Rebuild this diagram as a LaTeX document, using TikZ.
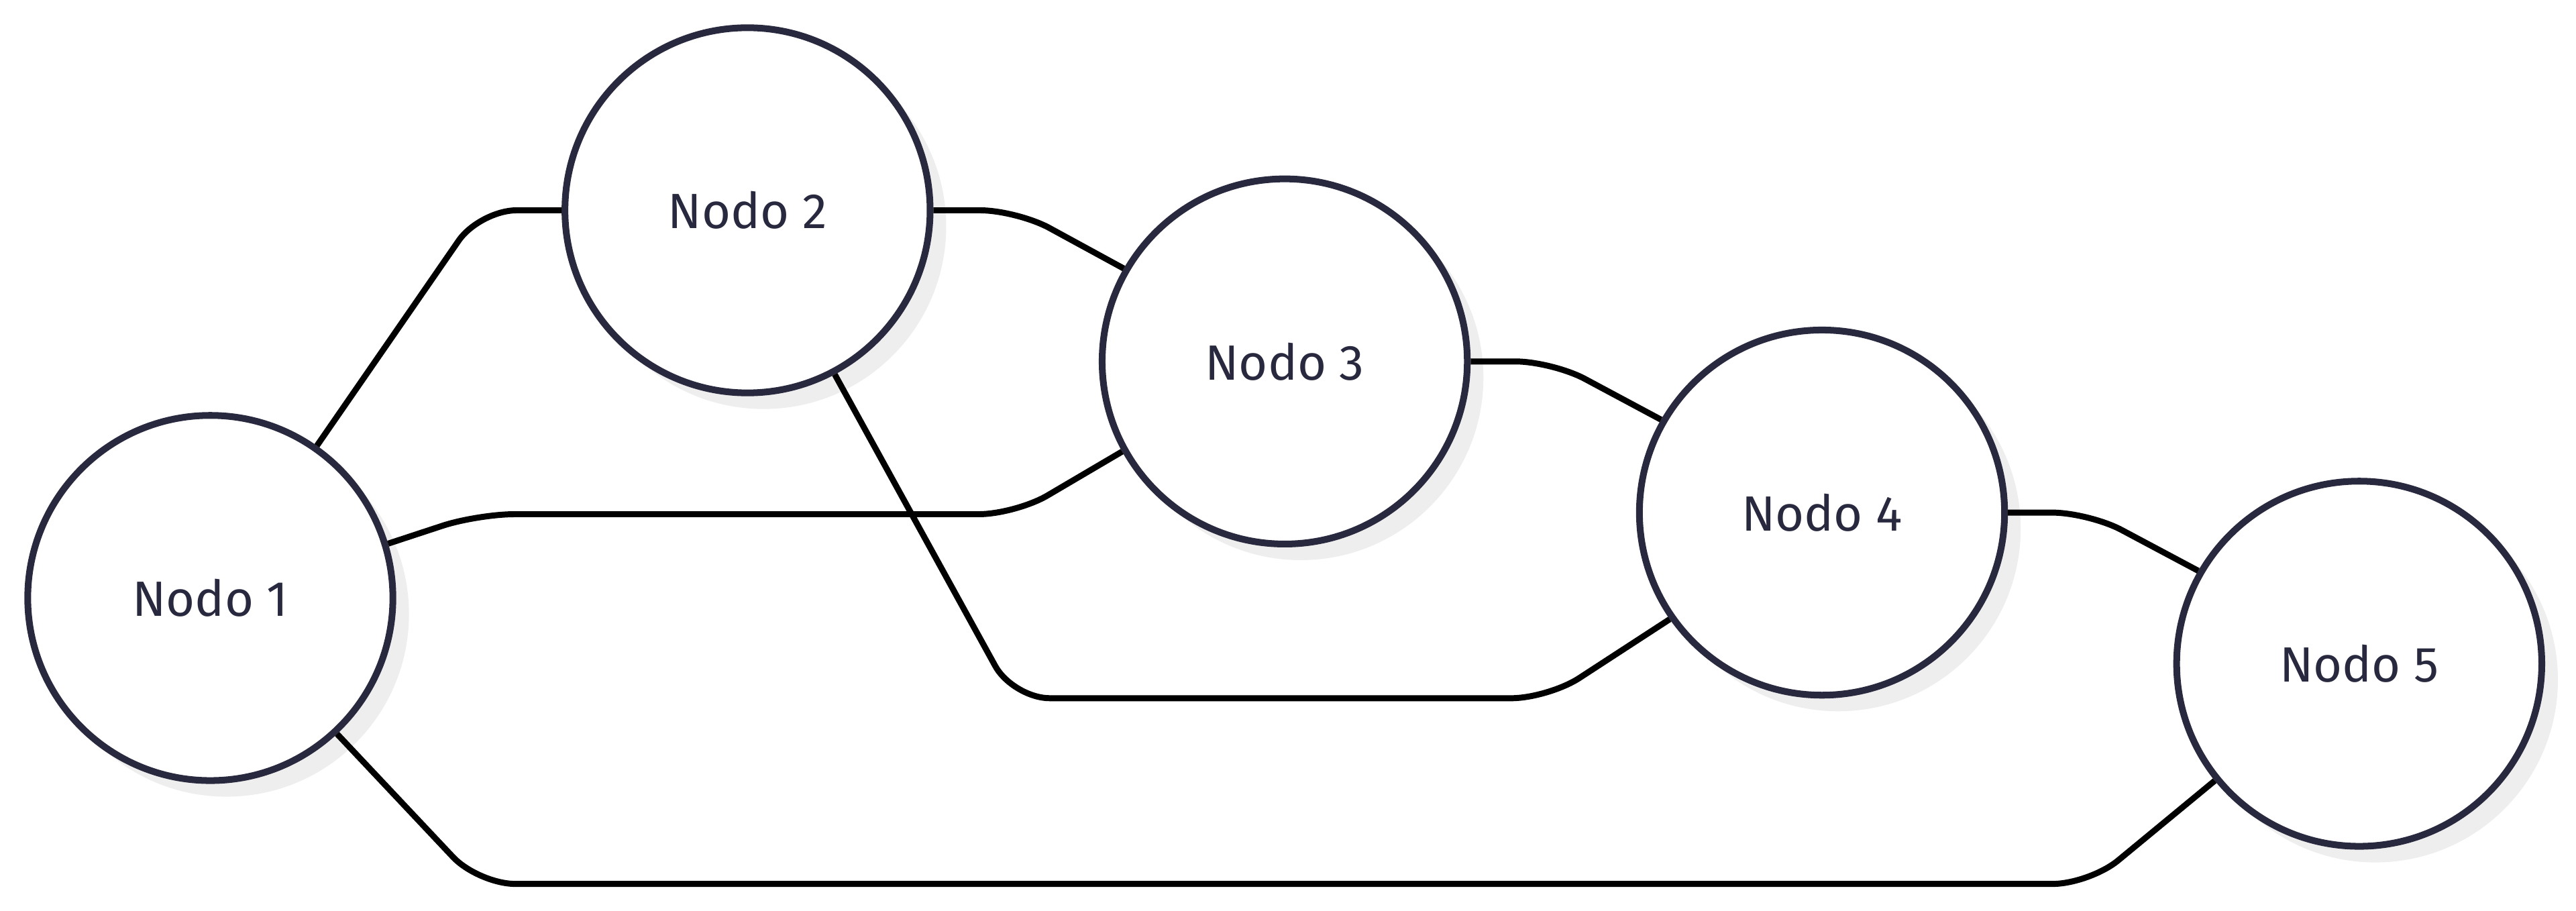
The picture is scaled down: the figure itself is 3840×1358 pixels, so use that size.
\documentclass[tikz,border=0pt]{standalone}
\usepackage{fontspec}
\setmainfont{Fira Sans}
\usetikzlibrary{shadows}
\definecolor{ink}{HTML}{28283E}
\definecolor{shadowc}{HTML}{EEEEEE}
\begin{document}
\begin{tikzpicture}[x=0.01cm, y=-0.01cm,
  circ/.style={circle, draw=ink, fill=white, line width=2.85pt, minimum size=5.44cm, inner sep=0pt,
    text=ink, font=\fontsize{21}{25}\selectfont,
    drop shadow={shadow xshift=0.24cm, shadow yshift=-0.24cm, fill=shadowc, draw=none, opacity=1}},
  link/.style={draw=black, line width=2.55pt, rounded corners=0.55cm}]
\useasboundingbox (0,0) rectangle (3840,1358);
\node[circ] (n1) at (313.5,891.4) {Nodo 1};
\node[circ] (n2) at (1114.3,313.5) {Nodo 2};
\node[circ] (n3) at (1915.1,538.8) {Nodo 3};
\node[circ] (n4) at (2716,764.1) {Nodo 4};
\node[circ] (n5) at (3516.8,989.4) {Nodo 5};
\draw[link] (n1.55) -- (715,313.5) -- (n2.west);
\draw[link] (n1.17) -- (712,766.5) -- (1514,766.5) -- (n3.209.5);
\draw[link] (n2.east) -- (1516,313.5) -- (n3.150.5);
\draw[link] (n2.298.8) -- (1510,1040.8) -- (2308,1040.8) -- (n4.215);
\draw[link] (n3.east) -- (2314,538.8) -- (n4.150.5);
\draw[link] (n4.east) -- (3114,764.1) -- (n5.150.5);
\draw[link] (n1.313.2) -- (713,1317.6) -- (3115,1317.6) -- (n5.219.7);
\end{tikzpicture}
\end{document}
